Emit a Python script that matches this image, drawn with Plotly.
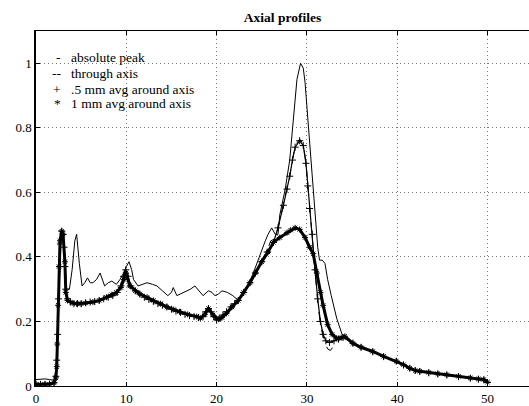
import plotly.graph_objects as go

# ---- absolute peak (thin solid) ----
x_abs = [0, 0.5, 1, 1.5, 2.0, 2.2, 2.4, 2.6, 2.8, 3.0, 3.2, 3.4, 3.7, 4.0, 4.3, 4.5, 4.8, 5.1, 5.4, 5.7,
         6.0, 6.3, 6.7, 7.1, 7.6, 8.0, 8.4, 8.9, 9.3, 9.7, 10.0, 10.3, 10.6, 10.8, 11.3, 11.8, 12.3, 12.9,
         13.4, 14.0, 14.6, 15.0, 15.2, 15.6, 16.0, 16.6, 17.1, 17.6, 18.0, 18.5, 19.1, 19.5, 19.8, 20.2,
         20.6, 21.2, 21.8, 22.4, 23.0, 23.5, 24.0, 24.5, 25.0, 25.4, 25.7, 26.1, 26.5, 26.8, 27.0, 27.3,
         27.6, 28.1, 28.5, 28.9, 29.3, 29.6, 29.8, 30.1, 30.5, 30.9, 31.2, 31.4, 31.7, 32.0, 32.3, 32.7,
         33.3, 33.9, 34.3, 35.1, 36.0, 37.3, 38.5, 39.9, 40.7, 41.4, 42.0, 42.5, 43.5, 44.5, 45.5, 46.8,
         48.1, 49.0, 49.6, 50.0]
y_abs = [0.02, 0.022, 0.022, 0.02, 0.018, 0.05, 0.2, 0.38, 0.47, 0.48, 0.40, 0.30, 0.30, 0.36, 0.45, 0.47,
         0.38, 0.31, 0.32, 0.335, 0.32, 0.32, 0.33, 0.35, 0.31, 0.32, 0.325, 0.315, 0.33, 0.35, 0.37, 0.385,
         0.36, 0.33, 0.31, 0.315, 0.32, 0.315, 0.31, 0.295, 0.28, 0.29, 0.305, 0.28, 0.285, 0.295, 0.30,
         0.31, 0.295, 0.28, 0.295, 0.29, 0.28, 0.285, 0.295, 0.29, 0.28, 0.265, 0.29, 0.315, 0.345, 0.385,
         0.42, 0.45, 0.47, 0.49, 0.47, 0.47, 0.53, 0.57, 0.61, 0.70, 0.83, 0.95, 1.0, 0.985, 0.94, 0.83,
         0.70, 0.55, 0.43, 0.39, 0.39, 0.38, 0.33, 0.28, 0.21, 0.16, 0.15, 0.135, 0.122, 0.107, 0.092, 0.078,
         0.066, 0.056, 0.049, 0.046, 0.042, 0.038, 0.035, 0.03, 0.025, 0.022, 0.02, 0.012]

# ---- through axis (dashed) ----
x_thr = [0, 0.5, 1.0, 1.5, 2.0, 2.2, 2.3, 2.4, 2.5, 2.6, 2.7, 2.85, 3.0, 3.1, 3.2, 3.3, 3.5, 3.8, 4.2, 4.6,
         5.0, 5.5, 6.0, 6.5, 7.0, 7.5, 8.0, 8.5, 9.0, 9.4, 9.7, 9.95, 10.2, 10.5, 11.0, 11.5, 12.0, 12.5,
         13.0, 13.5, 14.0, 14.5, 15.0, 15.5, 16.0, 16.5, 17.0, 17.5, 18.0, 18.5, 18.8, 19.1, 19.4, 19.7,
         20.0, 20.2, 20.5, 20.9, 21.3, 21.7, 22.2, 22.8, 23.5, 24.3, 25.0, 25.6, 26.0, 26.4, 26.8, 27.4,
         27.8, 28.1, 28.4, 28.7, 29.2, 29.6, 29.9, 30.1, 30.3, 30.6, 30.9, 31.2, 31.5, 31.9, 32.3, 32.6,
         33.0, 33.5, 34.0, 35.1, 36.0, 37.3, 38.5, 39.9, 40.7, 41.4, 42.0, 42.5, 43.5, 44.5, 45.5, 46.8,
         48.1, 49.0, 49.6, 50.0]
y_thr = [0.005, 0.005, 0.005, 0.006, 0.01, 0.03, 0.08, 0.16, 0.27, 0.37, 0.44, 0.48, 0.47, 0.43, 0.37, 0.30,
         0.27, 0.26, 0.255, 0.255, 0.255, 0.258, 0.26, 0.262, 0.265, 0.27, 0.275, 0.28, 0.29, 0.31, 0.345,
         0.365, 0.34, 0.31, 0.295, 0.285, 0.275, 0.268, 0.262, 0.255, 0.25, 0.245, 0.238, 0.232, 0.228,
         0.222, 0.218, 0.215, 0.212, 0.215, 0.23, 0.24, 0.228, 0.21, 0.195, 0.19, 0.205, 0.22, 0.23, 0.24,
         0.255, 0.28, 0.315, 0.355, 0.39, 0.42, 0.45, 0.455, 0.49, 0.56, 0.61, 0.65, 0.70, 0.745, 0.765,
         0.75, 0.69, 0.62, 0.55, 0.47, 0.36, 0.26, 0.19, 0.14, 0.115, 0.11, 0.125, 0.14, 0.15, 0.133, 0.12,
         0.106, 0.091, 0.077, 0.065, 0.055, 0.048, 0.045, 0.041, 0.037, 0.034, 0.029, 0.024, 0.021, 0.019,
         0.011]

# ---- .5 mm avg around axis (+) ----
x_half = [0, 0.5, 1.0, 1.5, 2.0, 2.2, 2.3, 2.4, 2.5, 2.6, 2.7, 2.85, 3.0, 3.1, 3.2, 3.3, 3.5, 3.8, 4.2, 4.6,
          5.0, 5.5, 6.0, 6.5, 7.0, 7.5, 8.0, 8.5, 9.0, 9.4, 9.7, 9.95, 10.2, 10.5, 11.0, 11.5, 12.0, 12.5,
          13.0, 13.5, 14.0, 14.5, 15.0, 15.5, 16.0, 16.5, 17.0, 17.5, 18.0, 18.5, 18.8, 19.1, 19.4, 19.7,
          20.0, 20.3, 20.7, 21.1, 21.6, 22.0, 22.4, 23.0, 23.7, 24.3, 25.0, 25.6, 26.3, 26.8, 27.4, 27.8,
          28.1, 28.4, 28.7, 29.2, 29.6, 29.9, 30.1, 30.3, 30.6, 30.9, 31.2, 31.5, 31.8, 32.1, 32.5, 33.0,
          33.5, 34.0, 35.1, 36.0, 37.3, 38.5, 39.9, 40.7, 41.4, 42.0, 42.5, 43.5, 44.5, 45.5, 46.8, 48.1,
          49.0, 49.6, 50.0]
y_half = [0.005, 0.005, 0.005, 0.006, 0.01, 0.03, 0.08, 0.16, 0.27, 0.37, 0.44, 0.48, 0.47, 0.43, 0.37, 0.30,
          0.27, 0.26, 0.255, 0.255, 0.255, 0.258, 0.26, 0.262, 0.265, 0.27, 0.275, 0.28, 0.29, 0.31, 0.34,
          0.36, 0.34, 0.31, 0.295, 0.285, 0.275, 0.268, 0.262, 0.255, 0.25, 0.245, 0.238, 0.232, 0.228,
          0.222, 0.218, 0.215, 0.212, 0.215, 0.23, 0.24, 0.23, 0.215, 0.205, 0.21, 0.22, 0.23, 0.245, 0.255,
          0.265, 0.29, 0.32, 0.35, 0.385, 0.415, 0.445, 0.49, 0.56, 0.61, 0.65, 0.70, 0.74, 0.76, 0.745,
          0.69, 0.62, 0.55, 0.47, 0.36, 0.27, 0.20, 0.16, 0.14, 0.135, 0.14, 0.145, 0.15, 0.133, 0.12,
          0.106, 0.091, 0.077, 0.065, 0.055, 0.048, 0.045, 0.041, 0.037, 0.034, 0.029, 0.024, 0.021, 0.019,
          0.011]

# ---- 1 mm avg around axis (*) ----
x_one = [0, 0.5, 1.0, 1.5, 2.0, 2.2, 2.3, 2.36, 2.45, 2.55, 2.66, 2.85, 3.0, 3.2, 3.3, 3.5, 4.0, 4.5, 5.0,
         5.5, 6.3, 7.0, 7.8, 8.4, 8.9, 9.4, 9.75, 9.95, 10.4, 11.0, 11.5, 12.3, 13.0, 13.8, 14.5, 15.2,
         15.9, 16.8, 17.8, 18.2, 18.7, 19.1, 19.6, 20.2, 20.6, 21.1, 21.7, 22.4, 23.0, 23.7, 24.3, 25.0,
         25.7, 26.3, 27.0, 27.8, 28.2, 28.7, 29.2, 29.8, 30.3, 30.7, 31.1, 31.5, 31.8, 32.3, 32.8, 33.3,
         33.8, 34.2, 35.1, 36.0, 37.3, 38.5, 39.9, 40.7, 41.4, 42.0, 42.5, 43.5, 44.5, 45.5, 46.8, 48.1,
         49.0, 49.6, 50.0]
y_one = [0.005, 0.005, 0.005, 0.006, 0.01, 0.025, 0.06, 0.13, 0.25, 0.37, 0.45, 0.48, 0.47, 0.385, 0.29,
         0.265, 0.258, 0.255, 0.255, 0.257, 0.26, 0.265, 0.275, 0.283, 0.29, 0.305, 0.33, 0.35, 0.31,
         0.295, 0.285, 0.275, 0.265, 0.255, 0.245, 0.237, 0.23, 0.222, 0.215, 0.21, 0.222, 0.24, 0.22,
         0.207, 0.212, 0.225, 0.245, 0.265, 0.29, 0.32, 0.35, 0.385, 0.415, 0.445, 0.46, 0.475, 0.483,
         0.49, 0.485, 0.46, 0.43, 0.41, 0.35, 0.29, 0.25, 0.19, 0.16, 0.148, 0.15, 0.154, 0.132, 0.12,
         0.107, 0.092, 0.077, 0.066, 0.055, 0.048, 0.046, 0.042, 0.038, 0.035, 0.03, 0.025, 0.022, 0.02,
         0.012]

legend_syms = ["-", "--", "+", "*"]
legend_labels = ["absolute peak", "through axis", ".5 mm avg around axis", "1 mm avg around axis"]

x_ticks = [0, 10, 20, 30, 40, 50]
y_ticks = [0, 0.2, 0.4, 0.6, 0.8, 1]
y_tick_text = ["0", "0.2", "0.4", "0.6", "0.8", "1"]

FONT = "Liberation Serif"
GRID_DASH = "1px,3px"

fig = go.Figure()
fig.add_trace(go.Scatter(x=x_abs, y=y_abs, mode="lines",
                         line=dict(color="black", width=1), name=legend_labels[0]))
fig.add_trace(go.Scatter(x=x_thr, y=y_thr, mode="lines",
                         line=dict(color="black", width=1, dash="dash"), name=legend_labels[1]))
fig.add_trace(go.Scatter(x=x_half, y=y_half, mode="lines+markers",
                         line=dict(color="black", width=1.2),
                         marker=dict(symbol="cross-thin-open", size=5, color="black",
                                     line=dict(color="black", width=1)),
                         name=legend_labels[2]))
fig.add_trace(go.Scatter(x=x_one, y=y_one, mode="lines+markers",
                         line=dict(color="black", width=3),
                         marker=dict(symbol="asterisk-open", size=5, color="black",
                                     line=dict(color="black", width=1)),
                         name=legend_labels[3]))

# MATLAB-style text legend
leg_y = [1.018, 0.969, 0.92, 0.874]
for s, lab, yy in zip(legend_syms, legend_labels, leg_y):
    fig.add_annotation(x=3.0, y=yy, xref="x", yref="y", text=s, showarrow=False,
                       xanchor="right", yanchor="middle",
                       font=dict(family=FONT, size=13.5, color="black"))
    fig.add_annotation(x=3.7, y=yy, xref="x", yref="y", text=lab, showarrow=False,
                       xanchor="left", yanchor="middle",
                       font=dict(family=FONT, size=13.5, color="black"))

fig.update_layout(
    width=529, height=406,
    margin=dict(l=36, r=0, t=31, b=18),
    paper_bgcolor="white", plot_bgcolor="white",
    showlegend=False,
    title=dict(text="<b>Axial profiles</b>", x=0.5, xref="paper", xanchor="center",
               y=1, yref="paper", yanchor="bottom", pad=dict(b=9),
               font=dict(family=FONT, size=13.5, color="black")),
    font=dict(family=FONT, size=13, color="black"),
)
fig.update_xaxes(range=[0, 54.6], tickvals=x_ticks, ticks="inside", ticklen=4, tickcolor="black",
                 showline=True, linecolor="black", linewidth=1, mirror="ticks",
                 showgrid=True, gridcolor="#777777", griddash=GRID_DASH, gridwidth=1,
                 zeroline=False, tickfont=dict(family=FONT, size=13, color="black"))
fig.update_yaxes(range=[0, 1.1], tickvals=y_ticks, ticktext=y_tick_text, ticks="inside", ticklen=4,
                 tickcolor="black", showline=True, linecolor="black", linewidth=1.5, mirror=False,
                 showgrid=True, gridcolor="#777777", griddash=GRID_DASH, gridwidth=1,
                 zeroline=False, tickfont=dict(family=FONT, size=13, color="black"))

fig.write_html("out.html")
